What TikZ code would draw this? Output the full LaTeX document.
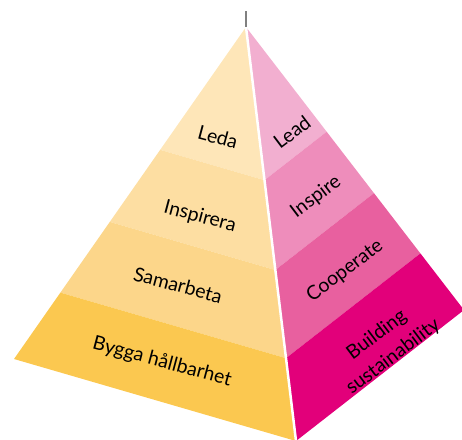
\documentclass[tikz,border=0pt]{standalone}
\usepackage{fontspec}
\setmainfont{Lato}
\usetikzlibrary{calc}
\definecolor{yelA}{HTML}{FEE6B8}
\definecolor{yelB}{HTML}{FDDEA2}
\definecolor{yelC}{HTML}{FCD68A}
\definecolor{yelD}{HTML}{FBC850}
\definecolor{pinkA}{HTML}{F2AFD0}
\definecolor{pinkB}{HTML}{EE8DBB}
\definecolor{pinkC}{HTML}{E8609F}
\definecolor{pinkD}{HTML}{E2007A}
\begin{document}
\begin{tikzpicture}
[x=1pt,y=-1pt]
\tikzset{lbl/.style={font=\fontsize{19.5}{27}\selectfont,inner sep=0pt,align=center}}
\tikzset{lft/.style={lbl,rotate=-15}}
\tikzset{rgt/.style={lbl,rotate=37}}
\useasboundingbox (0,0) rectangle (462,439);
\clip (0,0) rectangle (462,439);
\coordinate (tick) at (246,11);
\coordinate (top) at (246,27);
\coordinate (bl) at (14,359);
\coordinate (bf) at (296,441);
\coordinate (br) at (464,310);
\foreach \n/\f in {1/0.37,2/0.587,3/0.80}{
	\coordinate (l\n) at ($(top)!\f!(bl)$);
	\coordinate (f\n) at ($(top)!\f!(bf)$);
	\coordinate (r\n) at ($(top)!\f!(br)$);
}
\fill [yelA] (top) -- (l1) -- (f1) -- cycle;
\fill [yelB] (l1) -- (l2) -- (f2) -- (f1) -- cycle;
\fill [yelC] (l2) -- (l3) -- (f3) -- (f2) -- cycle;
\fill [yelD] (l3) -- (bl) -- (bf) -- (f3) -- cycle;
\fill [pinkA] (top) -- (r1) -- (f1) -- cycle;
\fill [pinkB] (r1) -- (r2) -- (f2) -- (f1) -- cycle;
\fill [pinkC] (r2) -- (r3) -- (f3) -- (f2) -- cycle;
\fill [pinkD] (r3) -- (br) -- (bf) -- (f3) -- cycle;
\draw [white,line width=2.5pt] (top) -- (bf);
\draw [gray,line width=1.2pt] (tick) -- (top);

\node [lft] (leda) at (218,137) {Leda};
\node [lft] (inspirera) at (200,217) {Inspirera};
\node [lft] (samarbeta) at (178,285) {Samarbeta};
\node [lft] (bygga) at (162,362) {Bygga hållbarhet};
\node [rgt] (lead) at (292,132) {Lead};
\node [rgt] (inspire) at (316,197) {Inspire};
\node [rgt] (cooperate) at (345,271) {Cooperate};
\node [rgt] (building) at (385,346) {Building\\sustainability};
\end{tikzpicture}
\end{document}
